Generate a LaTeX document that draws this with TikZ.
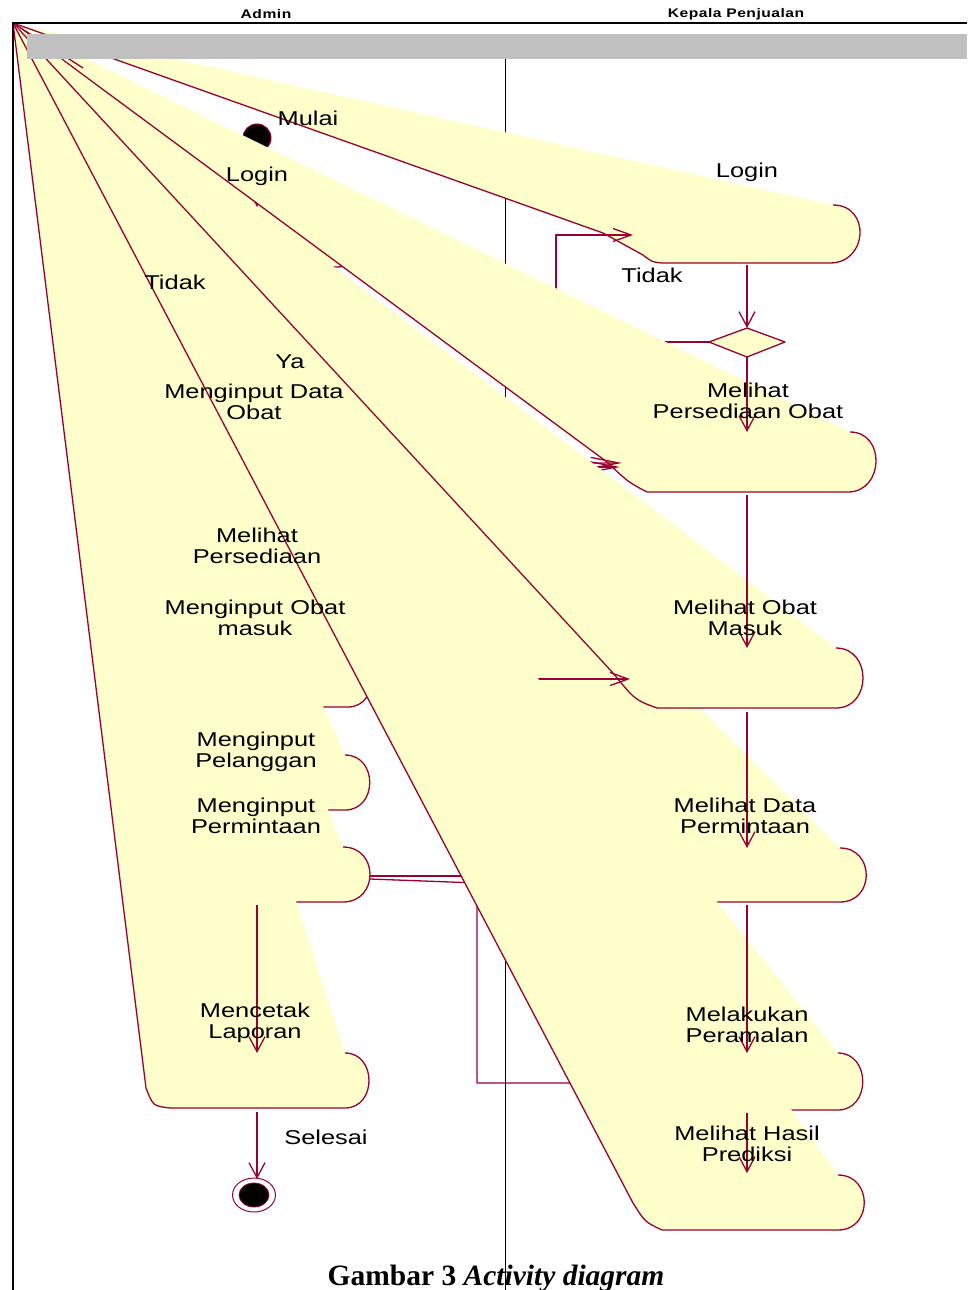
\documentclass[tikz,border=0pt]{standalone}
\usepackage{fontspec}
\usetikzlibrary{arrows.meta}
\newfontfamily\labfont{Liberation Sans}[FakeStretch=1.27]
\newfontfamily\hdrfont{Liberation Sans}[FakeStretch=1.25,LetterSpace=4]
\newfontfamily\capfont{Liberation Serif}
\definecolor{lnkc}{HTML}{990033}
\definecolor{yfc}{HTML}{FFFFCC}
\definecolor{barc}{HTML}{C0C0C0}
\tikzset{
 lnk/.style={draw=lnkc,line width=1.3pt,line join=round},
 yfl/.style={fill=yfc},
 lbl/.style={font=\labfont\fontsize{20}{21.5}\selectfont,align=center,inner sep=0pt},
 hdr/.style={font=\hdrfont\bfseries\fontsize{12.5}{14}\selectfont,inner sep=0pt},
 varr/.style={lnk,-{Straight Barb[length=15pt,width=16pt]}},
 harr/.style={lnk,-{Straight Barb[length=18pt,width=13pt]}},
 darr/.style={lnk,-{Straight Barb[length=28pt,width=11pt]}},
}
\newcommand\shp[4]{%
 \fill[yfl] (O) #1 -- (#2) .. controls +(#4,0) and +(#4,0) .. (#3) -- cycle;
 \draw[lnk] (O) #1 -- (#2) .. controls +(#4,0) and +(#4,0) .. (#3);}
\begin{document}
\begin{tikzpicture}[x=1pt,y=-1pt]
\useasboundingbox (0,0) rectangle (967,1290);
\fill[white] (0,0) rectangle (967,1290);
\coordinate (O) at (13,23);
% swimlane divider
\draw[black,line width=0.8pt] (505,59) -- (505,1290);
% start node
\node[circle,fill=black,draw=lnkc,line width=1pt,minimum size=28pt,inner sep=0pt] (start) at (257,138) {};
% Login (Admin)
\shp{-- (152,245) .. controls (158,262) .. (172,267)}{337,267}{337,207}{33}
\coordinate (loginL) at (257,207);
\draw[varr] (start.south) -- (loginL);
% Login (Kepala Penjualan)
\shp{-- (603,233) -- (643,255) .. controls (652,262) .. (662,263)}{830,263}{833,205}{38}
% Tidak loop (Kepala Penjualan)
\coordinate (dL) at (709,342);
\coordinate (loginRin) at (633,235);
\draw[harr] (dL) -- (556,342) -- (556,235) -- (loginRin);
% left column activities
\shp{-- (150,478) .. controls (156,497) .. (172,500)}{345,500}{345,440}{32}
\shp{-- (150,622) .. controls (156,640) .. (172,643)}{345,643}{345,585}{32}
\shp{-- (148,688) .. controls (154,705) .. (170,707)}{348,707}{348,650}{32}
\shp{-- (146,792) .. controls (152,808) .. (170,810)}{345,810}{345,755}{33}
\shp{-- (144,884) .. controls (150,900) .. (168,902)}{343,902}{343,847}{36}
\coordinate (permA) at (370,876);
\coordinate (permB) at (370,879);
\coordinate (dataPin) at (660,876);
\coordinate (ramalIn) at (660,1083);
\draw[lnk] (permA) -- (dataPin);
\draw[lnk] (permB) -- (477,883) -- (477,1083) -- (ramalIn);
\shp{-- (146,1088) .. controls (153,1106) .. (170,1108)}{345,1108}{345,1053}{32}
% right column activities
\shp{-- (607,462) .. controls (628,482) .. (647,492)}{848,492}{850,432}{36}
\coordinate (sa1) at (380,462);
\coordinate (sa2) at (380,467);
\coordinate (pers1) at (622,463);
\coordinate (pers2) at (620,467);
\draw[darr] (sa1) -- (pers1);
\draw[darr] (sa2) -- (pers2);
\shp{-- (628,872) .. controls (645,898) .. (665,902)}{840,902}{840,848}{35}
\shp{-- (613,673) .. controls (635,700) .. (657,708)}{836,708}{836,648}{36}
\coordinate (obmL) at (370,679);
\coordinate (obmR) at (630,679);
\draw[harr] (obmL) -- (obmR);
\shp{-- (628,1082) .. controls (645,1106) .. (665,1110)}{838,1110}{838,1053}{33}
\shp{-- (633,1203) .. controls (645,1222) .. (662,1230)}{838,1230}{838,1175}{35}
% decision
\filldraw[yfl,lnk] (709,342) -- (747,328) -- (785,342) -- (747,357) -- cycle;
% vertical flows
\draw[varr] (747,265) -- (747,328);
\draw[varr] (747,357) -- (747,432);
\draw[varr] (747,495) -- (747,648);
\draw[varr] (747,712) -- (747,848);
\draw[varr] (747,905) -- (747,1053);
\draw[varr] (747,1113) -- (747,1173);
\draw[varr] (257,905) -- (257,1053);
\coordinate (endc) at (254,1195);
\draw[varr] (257,1112) -- (257,1179);
% end node
\draw[lnk,line width=1pt] (endc) ellipse [x radius=21.5pt,y radius=17pt];
\filldraw[fill=black,draw=lnkc,line width=0.8pt] (endc) ellipse [x radius=15pt,y radius=12pt];
% labels
\node[lbl] (tMulai) at (308,118) {Mulai};
\node[lbl] (tLoginL) at (257,176) {Login};
\node[lbl] (tLoginR) at (747,172) {Login};
\node[lbl] (tTidakL) at (175,282) {Tidak};
\node[lbl] (tTidakR) at (652,275) {Tidak};
\node[lbl] (tYa) at (290,362) {Ya};
\node[lbl] (tMDO) at (254,402) {Menginput Data\\Obat};
\node[lbl] (tMP) at (257,546) {Melihat\\Persediaan};
\node[lbl] (tMOM) at (255,618) {Menginput Obat\\masuk};
\node[lbl] (tMPel) at (256,752) {Menginput\\Pelanggan};
\node[lbl] (tMPer) at (256,816) {Menginput\\Permintaan};
\node[lbl] (tML) at (255,1023) {Mencetak\\Laporan};
\node[lbl] (tSel) at (326,1137) {Selesai};
\node[lbl] (tMPO) at (748,401) {Melihat\\Persediaan Obat};
\node[lbl] (tMOMR) at (745,618) {Melihat Obat\\Masuk};
\node[lbl] (tMDP) at (745,816) {Melihat Data\\Permintaan};
\node[lbl] (tMPr) at (747,1025) {Melakukan\\Peramalan};
\node[lbl] (tMHP) at (747,1144) {Melihat Hasil\\Prediksi};
% frame and header
\draw[lnk] (O) -- (83,68);
\fill[barc] (27,34) rectangle (967,59);
\draw[black,line width=1.5pt] (13,1290) -- (13,23) -- (967,23);
\node[hdr] (hA) at (266,14) {Admin};
\node[hdr] (hK) at (736,14) {Kepala Penjualan};
\node[font=\capfont\bfseries\fontsize{29.5}{32}\selectfont,anchor=base,inner sep=0pt] (cap) at (496,1285) {Gambar 3 \textit{Activity diagram}};
\end{tikzpicture}
\end{document}
